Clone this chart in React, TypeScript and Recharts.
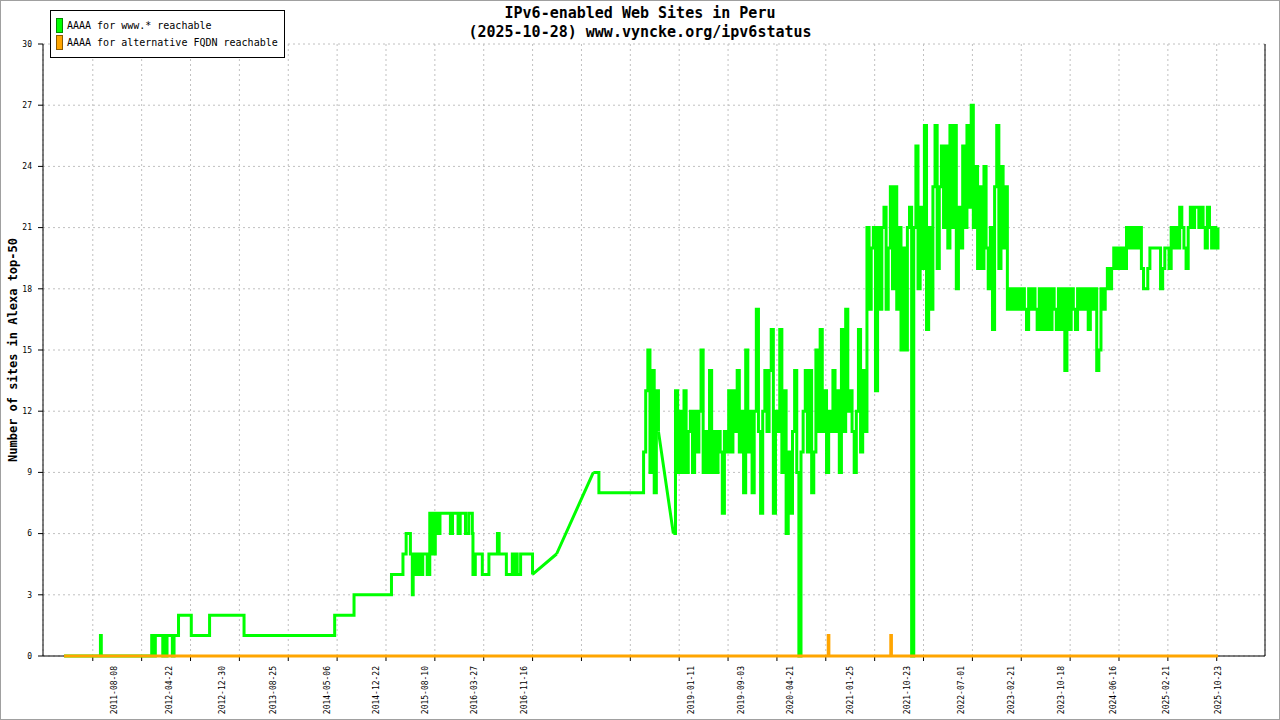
import React from "react";
import {
  LineChart,
  Line,
  XAxis,
  YAxis,
  CartesianGrid,
  Legend,
  ReferenceLine,
} from "recharts";

const GREEN = "#00ff00";
const ORANGE = "#ffa500";
const MONO = '"DejaVu Sans Mono", "Liberation Mono", monospace';

// AAAA for www.* reachable -- sparse checks up to mid 2018 (null = long gap without checks)
const wwwDates = [
  "2010-12-16", "2011-06-01", "2011-06-05", "2011-06-09", "2012-01-28", "2012-02-01",
  "2012-02-05", "2012-02-09", "2012-02-13", "2012-02-18", "2012-03-21", "2012-03-24",
  "2012-03-28", "2012-04-01", "2012-04-05", "2012-04-09", "2012-04-13", "2012-05-05",
  "2012-05-08", "2012-05-13", "2012-05-16", "2012-06-03", "2012-06-06", "2012-08-02",
  "2012-08-05", "2012-10-27", "2012-10-30", "2013-04-03", "2013-04-10", "2014-06-07",
  "2014-06-10", "2014-09-05", "2014-09-09", "2015-03-01", "2015-03-04", "2015-04-23",
  "2015-04-27", "2015-05-09", "2015-05-12", "2015-05-29", "2015-06-01", "2015-06-07",
  "2015-06-10", "2015-06-14", "2015-06-18", "2015-06-23", "2015-06-27", "2015-07-02",
  "2015-07-06", "2015-07-11", "2015-07-15", "2015-07-20", "2015-07-24", "2015-07-29",
  "2015-08-16", "2015-08-19", "2015-08-28", "2015-08-31", "2015-09-04", "2015-09-08",
  "2015-09-13", "2015-09-21", "2015-09-26", "2015-10-01", "2015-10-06", "2015-10-12",
  "2015-10-18", "2015-12-03", "2015-12-06", "2015-12-13", "2015-12-16", "2016-01-08",
  "2016-01-11", "2016-01-18", "2016-01-21", "2016-02-12", "2016-02-15", "2016-02-26",
  "2016-03-01", "2016-03-15", "2016-03-18", "2016-03-21", "2016-03-29", "2016-04-01",
  "2016-05-01", "2016-05-04", "2016-06-01", "2016-06-04", "2016-07-12", "2016-07-14",
  "2016-07-20", "2016-07-22", "2016-08-22", "2016-08-25", "2016-09-19", "2016-09-22",
  "2016-09-28", "2016-10-03", "2016-10-12", "2016-10-15", "2016-10-28", "2016-10-31",
  "2016-12-22", "2016-12-26", "2017-02-15", "2017-04-18", "2017-07-15", "2017-10-08",
  "2017-10-31", "2017-11-03", "2018-05-28",
];
const wwwValues: (number | null)[] = [
  0, 0, 1, 0, 0, 1,
  0, 1, 0, 1, 1, 0,
  1, 0, 1, 0, 1, 1,
  0, 0, 1, 1, 2, 2,
  1, 1, 2, 2, 1, 1,
  2, 2, 3, 3, 4, 4,
  5, 5, 6, 6, 5, 5,
  3, 5, 4, 5, 4, 5,
  4, 5, 4, 5, 4, 5,
  5, 4, 4, 7, 5, 7,
  6, 5, 7, 6, 7, 6,
  7, 7, 6, 6, 7, 7,
  6, 6, 7, 7, 6, 6,
  7, 7, 6, 4, 4, 5,
  5, 4, 4, 5, 5, 6,
  6, 5, 5, 4, 4, 5,
  4, 5, 5, 4, 4, 5,
  5, 4, null, 5, null, 9,
  9, 8, 8,
];

// AAAA for www.* reachable -- from 2018-06-01, one reading every 10 days (null = no check)
const dailyStart = "2018-06-01";
const dailyStepDays = 10;
const wwwDaily: (number | null)[] = [
  10, 13, 15, 9, 14, 8, 13, 11, null, null, null, null, null, null, 6, 13, 9, 12, 9, 13,
  9, 11, 12, 9, 12, 10, 12, 15, 9, 11, 9, 14, 9, 11, 9, 11, 10, 7, 11, 10,
  13, 10, 13, 11, 14, 10, 12, 8, 15, 10, 12, 8, 12, 17, 11, 7, 12, 14, 11, 14,
  16, 7, 12, 11, 16, 9, 13, 6, 10, 7, 11, 14, 9, 0, 10, 12, 14, 10, 14, 8,
  10, 15, 11, 16, 11, 13, 9, 12, 11, 14, 11, 13, 9, 16, 11, 17, 12, 13, 11, 9,
  12, 16, 10, 14, 11, 21, 17, 20, 21, 13, 21, 17, 21, 22, 17, 20, 23, 18, 23, 17,
  21, 15, 20, 15, 21, 22, 0, 21, 25, 18, 22, 19, 26, 16, 21, 17, 23, 26, 19, 23,
  25, 21, 25, 20, 26, 21, 26, 18, 22, 20, 25, 21, 26, 22, 27, 21, 24, 19, 23, 19,
  24, 20, 18, 21, 16, 23, 26, 19, 24, 20, 23, 17, 18, 17, 18, 17, 18, 17, 18, 17,
  16, 18, 17, 18, 17, 16, 18, 16, 18, 16, 18, 16, 18, 17, 16, 18, 16, 18, 14, 18,
  16, 18, 17, 16, 18, 17, 18, 17, 18, 16, 18, 17, 18, 14, 15, 18, 17, 18, 19, 18,
  19, 20, 19, 20, 19, 20, 19, 21, 20, 21, 20, 21, 20, 21, 19, 18, 18, 19, 20, 20,
  20, 20, 20, 18, 19, 20, 20, 19, 21, 20, 21, 20, 22, 21, 20, 19, 21, 22, 21, 22,
  22, 21, 22, 21, 20, 22, 21, 20, 21, 20, 21,
];

// AAAA for alternative FQDN reachable
const altDates = [
  "2010-12-16", "2020-10-13", "2020-10-16", "2020-10-19",
  "2021-08-03", "2021-08-06", "2021-08-09", "2025-10-22",
];
const altValues = [0, 0, 1, 0, 0, 1, 0, 0];

const seriesNames = ["AAAA for www.* reachable", "AAAA for alternative FQDN reachable"];

const labelDates = [
  "2011-08-08", "2012-04-22", "2012-12-30", "2013-08-25", "2014-05-06",
  "2014-12-22", "2015-08-10", "2016-03-27", "2016-11-16", "2019-01-11",
  "2019-09-03", "2020-04-21", "2021-01-25", "2021-10-23", "2022-07-01",
  "2023-02-21", "2023-10-18", "2024-06-16", "2025-02-21", "2025-10-23",
];
const yTicks = [0, 3, 6, 9, 12, 15, 18, 21, 24, 27, 30];

const DAY_MS = 86400000;
const toDay = (iso: string) => Date.parse(iso) / DAY_MS;

const xDomain = [toDay("2010-09-08"), toDay("2026-05-31")];
// evenly spaced grid ticks, as jpgraph draws them
const gridStart = toDay("2011-04-30");
const gridStep = 229.7;
const gridTicks = Array.from({ length: 24 }, (_, k) => gridStart + k * gridStep);
const labelTicks = labelDates.map(toDay);

type Pt = { t: number; v: number | null };

const wwwData: Pt[] = [
  ...wwwDates.map((d, i) => ({ t: toDay(d), v: wwwValues[i] })),
  ...wwwDaily.map((v, i) => ({ t: toDay(dailyStart) + i * dailyStepDays, v })),
];

// where there were no checks for a while the graph just joins the two readings
const bridgeData: Pt[] = [];
wwwData.forEach((p, i) => {
  if (p.v === null || wwwData[i + 1]?.v !== null) return;
  const next = wwwData.slice(i + 1).find((q) => q.v !== null);
  if (!next) return;
  bridgeData.push(p, next, { t: next.t, v: null });
});

const altData: Pt[] = altDates.map((d, i) => ({ t: toDay(d), v: altValues[i] }));

function NoTick() {
  return <g />;
}

function DateTick({ x, y, payload }: any) {
  const idx = labelTicks.findIndex((t) => Math.abs(t - payload.value) < 0.5);
  const text = idx >= 0 ? labelDates[idx] : "";
  return (
    <text
      x={x}
      y={y}
      dy="0.35em"
      transform={`rotate(-90, ${x}, ${y})`}
      textAnchor="end"
      fontSize={8}
      fontFamily={MONO}
      fill="#000"
    >
      {text}
    </text>
  );
}

function LegendBox({ payload }: any) {
  const items = [...(payload ?? [])]
    .filter((p: any) => seriesNames.includes(p.value))
    .sort((a: any, b: any) => seriesNames.indexOf(a.value) - seriesNames.indexOf(b.value));
  return (
    <div
      style={{
        boxSizing: "border-box",
        width: 235,
        height: 48,
        border: "1px solid #000",
        background: "#fff",
        padding: "6px 0 0 5px",
        fontFamily: MONO,
        fontSize: 10,
        color: "#000",
      }}
    >
      {items.map((p: any) => (
        <div
          key={p.value}
          style={{ display: "flex", alignItems: "center", height: 17 }}
        >
          <span
            style={{
              boxSizing: "border-box",
              width: 7,
              height: 15,
              background: p.color,
              border: "1px solid rgba(0,0,0,0.45)",
              marginRight: 4,
            }}
          />
          <span style={{ whiteSpace: "pre" }}>{p.value}</span>
        </div>
      ))}
    </div>
  );
}

function YLabel({ viewBox }: any) {
  const cx = (viewBox?.x ?? 0) + 13;
  const cy = (viewBox?.y ?? 44) + (viewBox?.height ?? 612) / 2;
  return (
    <text
      x={cx}
      y={cy}
      dy="0.35em"
      transform={`rotate(-90, ${cx}, ${cy})`}
      textAnchor="middle"
      fontSize={12}
      fontWeight="bold"
      fontFamily={MONO}
      fill="#000"
    >
      Number of sites in Alexa top-50
    </text>
  );
}

export default function App() {
  return (
    <div
      style={{
        position: "absolute",
        left: 0,
        top: 0,
        width: 1280,
        height: 720,
        background: "#fff",
      }}
    >
      <div
        style={{
          position: "absolute",
          left: 0,
          top: 4,
          width: 1280,
          textAlign: "center",
          fontFamily: MONO,
          fontSize: 15,
          fontWeight: "bold",
          lineHeight: "19px",
          color: "#000",
        }}
      >
        <div>IPv6-enabled Web Sites in Peru</div>
        <div>(2025-10-28) www.vyncke.org/ipv6status</div>
      </div>
      <LineChart
        width={1280}
        height={720}
        data={wwwData}
        margin={{ top: 44, right: 15, left: 0, bottom: 0 }}
        style={{ position: "absolute", left: 0, top: 0 }}
      >
        <CartesianGrid stroke="#c0c0c0" strokeDasharray="2 3" />
        <XAxis
          type="number"
          dataKey="t"
          domain={xDomain}
          allowDataOverflow
          ticks={gridTicks}
          interval={0}
          height={8}
          tickSize={5}
          tick={<NoTick />}
          axisLine={{ stroke: "#000" }}
          tickLine={{ stroke: "#000" }}
        />
        <XAxis
          xAxisId="lbl"
          type="number"
          dataKey="t"
          domain={xDomain}
          allowDataOverflow
          ticks={labelTicks}
          interval={0}
          height={56}
          tickSize={0}
          tickMargin={2}
          axisLine={false}
          tickLine={false}
          tick={<DateTick />}
        />
        <YAxis
          type="number"
          domain={[0, 30]}
          ticks={yTicks}
          interval={0}
          width={43}
          tickSize={5}
          tickMargin={6}
          axisLine={{ stroke: "#000" }}
          tickLine={{ stroke: "#000" }}
          tick={{ fontSize: 8, fontFamily: MONO, fill: "#000" }}
          label={{ content: <YLabel /> }}
        />
        <ReferenceLine x={xDomain[1]} stroke="#000" />
        <Legend
          layout="horizontal"
          verticalAlign="middle"
          align="center"
          wrapperStyle={{ left: 50, top: 10, width: "auto" }}
          content={<LegendBox />}
        />
        <Line
          data={bridgeData}
          dataKey="v"
          legendType="none"
          type="linear"
          stroke={GREEN}
          strokeWidth={3}
          dot={false}
          activeDot={false}
          isAnimationActive={false}
          zIndex={600}
        />
        <Line
          data={wwwData}
          dataKey="v"
          name={seriesNames[0]}
          type="stepAfter"
          stroke={GREEN}
          strokeWidth={3}
          dot={false}
          activeDot={false}
          isAnimationActive={false}
          zIndex={600}
        />
        <Line
          data={altData}
          dataKey="v"
          name={seriesNames[1]}
          type="stepAfter"
          stroke={ORANGE}
          strokeWidth={3}
          dot={false}
          activeDot={false}
          isAnimationActive={false}
          zIndex={601}
        />
      </LineChart>
      <div
        style={{
          position: "absolute",
          left: 0,
          top: 0,
          width: 1280,
          height: 720,
          boxSizing: "border-box",
          border: "1px solid #a0a0a0",
          pointerEvents: "none",
        }}
      />
    </div>
  );
}
